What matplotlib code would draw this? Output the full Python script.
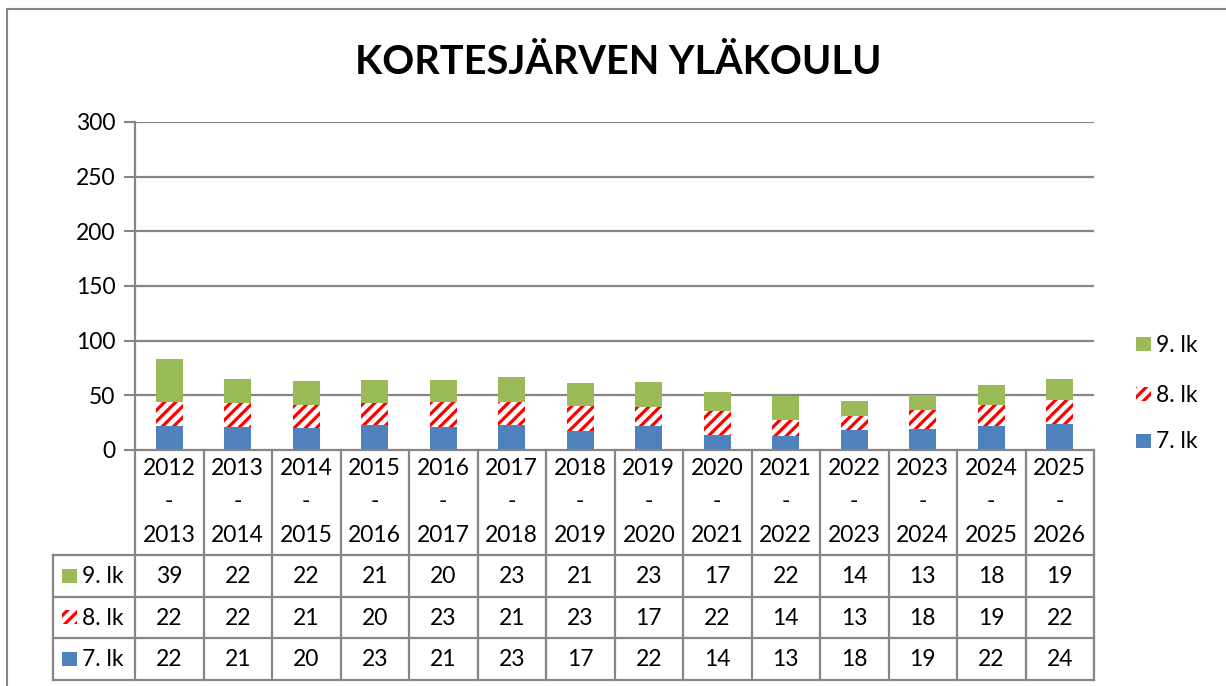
import matplotlib
matplotlib.use("Agg")
import matplotlib.pyplot as plt
from matplotlib.patches import Rectangle
from matplotlib.lines import Line2D
import numpy as np

categories = ["2012\n-\n2013", "2013\n-\n2014", "2014\n-\n2015", "2015\n-\n2016",
              "2016\n-\n2017", "2017\n-\n2018", "2018\n-\n2019", "2019\n-\n2020",
              "2020\n-\n2021", "2021\n-\n2022", "2022\n-\n2023", "2023\n-\n2024",
              "2024\n-\n2025", "2025\n-\n2026"]
lk7 = [22, 21, 20, 23, 21, 23, 17, 22, 14, 13, 18, 19, 22, 24]
lk8 = [22, 22, 21, 20, 23, 21, 23, 17, 22, 14, 13, 18, 19, 22]
lk9 = [39, 22, 22, 21, 20, 23, 21, 23, 17, 22, 14, 13, 18, 19]
series_names = ["7. lk", "8. lk", "9. lk"]
yticks = [0, 50, 100, 150, 200, 250, 300]
title = "KORTESJÄRVEN YLÄKOULU"

plt.rcParams['font.family'] = ['Lato', 'DejaVu Sans']
plt.rcParams['hatch.linewidth'] = 2.3
plt.rcParams['hatch.color'] = '#FF0000'

W, H = 1226, 686
fig = plt.figure(figsize=(W / 100, H / 100), dpi=100)

GRID = '#868686'
BLUE = '#4F81BD'
GREEN = '#9BBB59'
RED = '#FF0000'
FS = 16.5

def px(x0, y0, x1, y1):
    return [x0 / W, 1 - y1 / H, (x1 - x0) / W, (y1 - y0) / H]

# outer chart border
fig.add_artist(Rectangle((7 / W, -0.1), 1.2, 1 - 9 / H + 0.1, transform=fig.transFigure,
                         fill=False, edgecolor=GRID, linewidth=1.5))

fig.text(618 / W, 1 - 62 / H, title, ha='center', va='center', fontsize=28.5,
         fontweight='bold', color='black')

# main axes
L, R, T, B = 135, 1094, 122, 450
ax = fig.add_axes(px(L, T, R, B))
n = len(categories)
x = np.arange(n)
bw = 0.4
ax.bar(x, lk7, bw, color=BLUE, linewidth=0)
ax.bar(x, lk8, bw, bottom=lk7, facecolor='white', edgecolor=RED, hatch='///', linewidth=0)
bottom9 = [a + b for a, b in zip(lk7, lk8)]
ax.bar(x, lk9, bw, bottom=bottom9, color=GREEN, linewidth=0)
ax.set_xlim(-0.5, n - 0.5)
ax.set_ylim(0, 300)
ax.set_yticks(yticks)
ax.set_yticklabels([str(v) for v in yticks], fontsize=FS)
ax.tick_params(axis='y', length=8, width=1.5, color=GRID, pad=6)
ax.set_xticks([])
for v in yticks[1:]:
    ax.axhline(v, color=GRID, linewidth=1.6, zorder=0)
for s in ['top', 'right']:
    ax.spines[s].set_visible(False)
for s in ['left', 'bottom']:
    ax.spines[s].set_color(GRID)
    ax.spines[s].set_linewidth(1.6)

# table axes
TL, TB = 53, 680
ppu = (R - L) / n
xmin = -0.5 - (L - TL) / ppu
tax = fig.add_axes(px(TL, B, R, TB))
tax.set_xlim(xmin, n - 0.5)
tax.set_ylim(TB, B)
tax.axis('off')
lk = dict(color=GRID, linewidth=1.6, clip_on=False)
rows_y = [555, 597, 638, 680]
for yy in rows_y:
    tax.add_line(Line2D([xmin, n - 0.5], [yy, yy], **lk))
for i in range(n + 1):
    tax.add_line(Line2D([i - 0.5, i - 0.5], [B, TB], **lk))
tax.add_line(Line2D([xmin, xmin], [555, TB], **lk))
for i, c in enumerate(categories):
    tax.text(i, 502, c, ha='center', va='center', fontsize=FS, linespacing=1.75)
rows = [(lk9, "9. lk", GREEN, None), (lk8, "8. lk", 'white', '///'), (lk7, "7. lk", BLUE, None)]
for r, (vals, name, col, hatch) in enumerate(rows):
    yc = (rows_y[r] + rows_y[r + 1]) / 2
    for i, v in enumerate(vals):
        tax.text(i, yc + 1, str(v), ha='center', va='center', fontsize=FS)
    kx = xmin + (62 - TL) / ppu
    kw = 15 / ppu
    tax.add_patch(Rectangle((kx, yc - 7), kw, 14, facecolor=col, hatch=hatch,
                            edgecolor=RED if hatch else 'none', linewidth=0))
    tax.text(xmin + (82 - TL) / ppu, yc + 1, name, ha='left', va='center', fontsize=FS)

# right legend
leg_items = [("9. lk", GREEN, None, 344), ("8. lk", 'white', '///', 394), ("7. lk", BLUE, None, 441)]
for name, col, hatch, yy in leg_items:
    fig.add_artist(Rectangle((1136 / W, 1 - (yy + 7) / H), 15 / W, 14 / H, transform=fig.transFigure,
                             facecolor=col, hatch=hatch, edgecolor=RED if hatch else 'none', linewidth=0))
    fig.text(1156 / W, 1 - (yy + 1) / H, name, ha='left', va='center', fontsize=FS)

fig.savefig("out.png", dpi=100)
